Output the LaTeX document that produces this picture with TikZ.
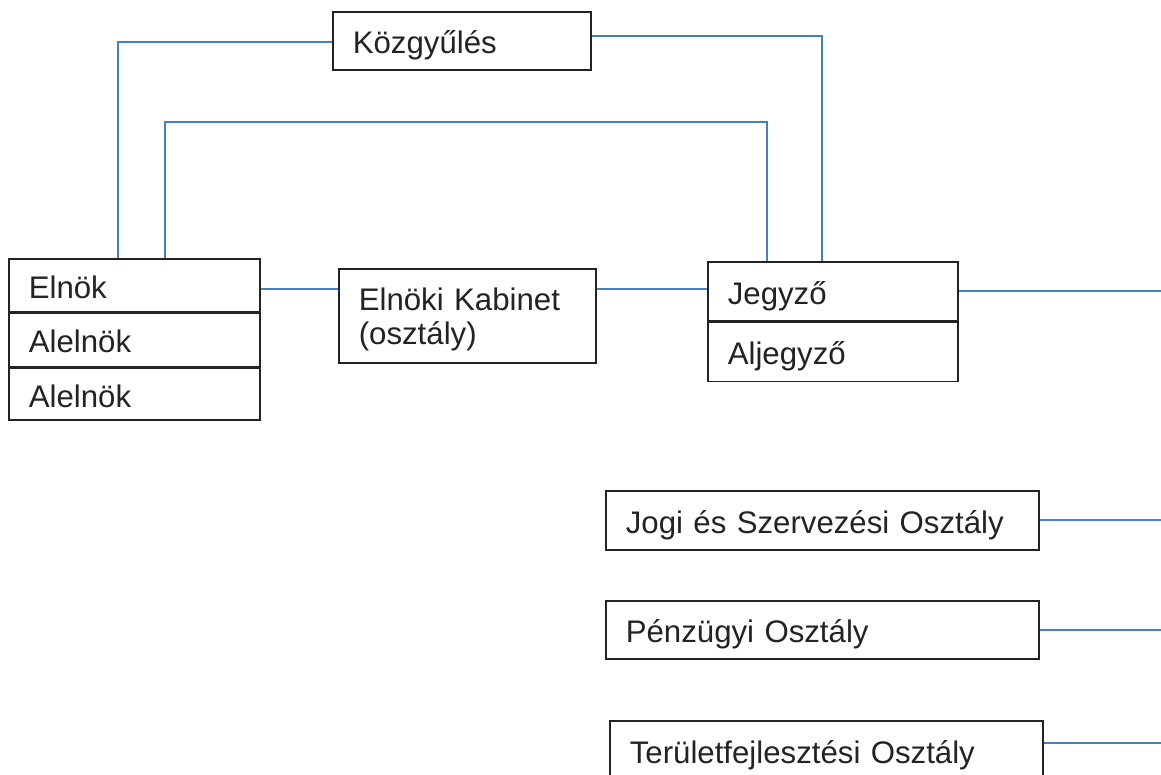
\documentclass[tikz,border=0pt]{standalone}
\usepackage{fontspec}
\setmainfont{Liberation Sans}
\definecolor{connc}{RGB}{66,130,196}
\definecolor{ink}{RGB}{35,35,35}
\newcommand\mystrut{\rule[-8pt]{0pt}{42pt}}
\newcommand\lowstrut{\rule[-9pt]{0pt}{44pt}}
\begin{document}
\begin{tikzpicture}[x=1pt,y=-1pt,
  box/.style={draw=ink, line width=1.6pt, text=ink, inner xsep=20pt, inner ysep=0pt,
    align=left, anchor=north west, font=\fontsize{31.2}{34}\selectfont},
  conn/.style={draw=connc, line width=1.9pt}]
\useasboundingbox (0,0) rectangle (1161,775);
\clip (0,0) rectangle (1161,775);
\fill[white] (0,0) rectangle (1161,775);
\coordinate (edge) at (1161,0);
\coordinate (top) at (0,122);
% nodes
\node[box, text width=218pt, minimum height=58pt] (kozgy) at (332,11) {\mystrut Közgyűlés};
\node[box, text width=211pt, minimum height=53pt] (elnok) at (8,258) {\lowstrut Elnök};
\node[box, text width=211pt, minimum height=53pt] (alelnok1) at (elnok.south west) {\lowstrut Alelnök};
\node[box, text width=211pt, minimum height=52pt] (alelnok2) at (alelnok1.south west) {\lowstrut Alelnök};
\node[box, text width=217pt, minimum height=94pt] (kabinet) at (338,268) {\rule{0pt}{31pt}Elnöki Kabinet\\(osztály)\rule[-8pt]{0pt}{8pt}};
\node[box, text width=210pt, minimum height=59pt] (jegyzo) at (707,261) {\mystrut Jegyző};
\node[box, text width=210pt, minimum height=59pt] (aljegyzo) at (jegyzo.south west) {\mystrut Aljegyző};
\node[box, text width=393pt, minimum height=59pt] (jogi) at (605,490) {\mystrut Jogi és Szervezési Osztály};
\node[box, text width=393pt, minimum height=58pt] (penz) at (605,600) {\mystrut Pénzügyi Osztály};
\node[box, text width=393pt, minimum height=59pt] (terulet) at (609,720) {\mystrut Területfejlesztési Osztály};
% connectors
\draw[conn] ([yshift=-1pt]kozgy.west) -| ([xshift=110pt]elnok.north west);
\draw[conn] ([xshift=157pt]elnok.north west) -- ([xshift=157pt]elnok.north west |- top) -| ([xshift=60pt]jegyzo.north west);
\draw[conn] ([yshift=5pt]kozgy.east) -| ([xshift=115pt]jegyzo.north west);
\draw[conn] ([yshift=-4pt]elnok.east) -- ([yshift=-4pt]elnok.east -| kabinet.west);
\draw[conn] ([yshift=2pt]jegyzo.west -| kabinet.east) -- ([yshift=2pt]jegyzo.west);
\draw[conn] (jegyzo.east) -- (jegyzo.east -| edge);
\draw[conn] (jogi.east) -- (jogi.east -| edge);
\draw[conn] (penz.east) -- (penz.east -| edge);
\draw[conn] ([yshift=7pt]terulet.east) -- ([yshift=7pt]terulet.east -| edge);
\end{tikzpicture}
\end{document}
